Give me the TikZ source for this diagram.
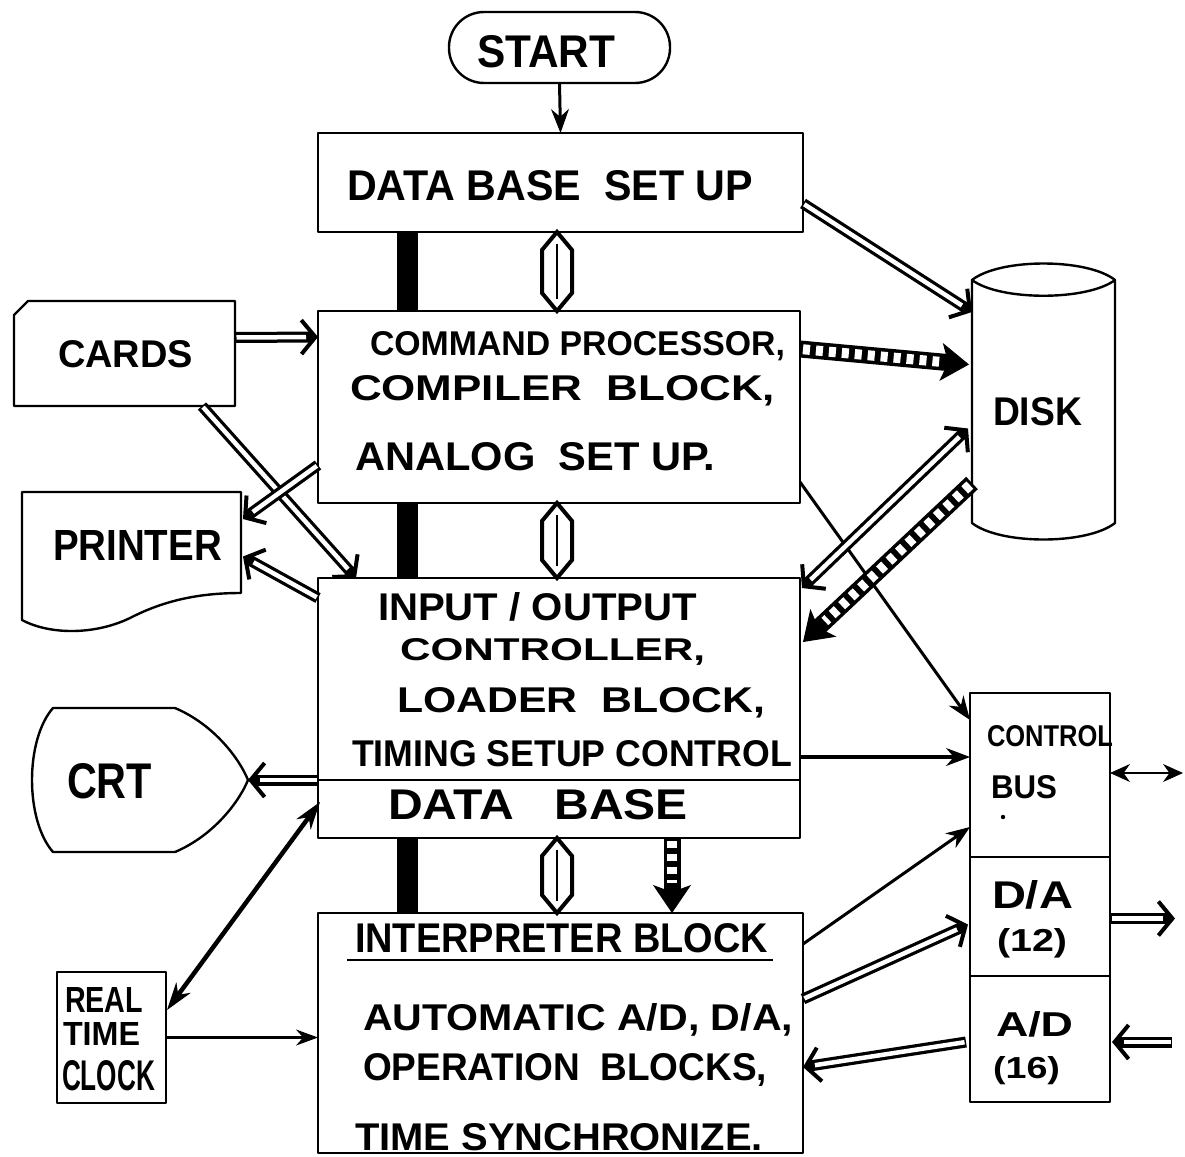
\documentclass[tikz,border=0pt]{standalone}
\usepackage{fontspec}
\setmainfont{Liberation Sans}
\usepackage{graphicx}
\usetikzlibrary{arrows.meta,calc}
\newcommand\lbl[6]{\node[anchor=base west,inner sep=0pt,outer sep=0pt] (#1) at (#2,#3) {\resizebox{#4pt}{#5pt}{\bfseries #6}};}
\newcommand\hexarr[2]{%
  \draw[hexline] (#1) -- ($(#1)+(15,18)$) -- ($(#2)+(15,-18)$) -- (#2) -- ($(#2)+(-15,-18)$) -- ($(#1)+(-15,18)$) -- cycle;
  \draw[line width=2.5pt] ($(#1)+(0,12)$) -- ($(#2)+(0,-12)$);}
\tikzset{
  boxline/.style={draw=black,line width=2.4pt,line join=round},
  box/.style={boxline,inner sep=0pt,outer sep=0pt},
  area/.style={inner sep=0pt,outer sep=0pt},
  hexline/.style={line width=4pt,line join=miter},
  sarrow/.style={line width=3pt,-{Stealth[length=24pt,width=18pt,line width=1pt]}},
  thinarrow/.style={line width=2.4pt,-{Stealth[length=22pt,width=16pt,line width=1pt]}},
  barb/.tip={Straight Barb[length=14pt,width=34pt,line width=4pt]},
  dblarrow/.style={line width=11pt,-barb,postaction={draw=white,line width=4.5pt,-,shorten >=12pt,shorten <=1.5pt}},
  dblboth/.style={line width=11pt,barb-barb,postaction={draw=white,line width=4.5pt,-,shorten >=12pt,shorten <=12pt}},
  hatched/.style={line width=17pt,-{Stealth[length=28pt,width=38pt,inset=7pt,line width=1pt]},
    postaction={draw=white,line width=10pt,dash pattern=on 7pt off 6pt,-,shorten >=30pt,shorten <=3pt}},
  busbar/.style={line width=21pt},
}
\begin{document}
\begin{tikzpicture}[x=1pt,y=-1pt]
\fill[white] (0,0) rectangle (1185,1156);
\useasboundingbox (0,0) rectangle (1185,1156);

% ---- boxes
\node[box,rounded corners=35pt,minimum width=221pt,minimum height=71pt] (start) at (559.5,47.5) {};
\node[box,minimum width=485pt,minimum height=99pt] (dbsu) at (560.5,182.5) {};
\node[box,minimum width=482pt,minimum height=192pt] (cp) at (559,407) {};
\node[box,minimum width=482pt,minimum height=202pt] (io) at (559,679) {};
\node[box,minimum width=482pt,minimum height=58pt] (db) at (559,809) {};
\node[box,minimum width=485pt,minimum height=240pt] (interp) at (560.5,1033) {};
\node[area,minimum width=221pt,minimum height=105pt] (cards) at (124.5,353.5) {};
\node[area,minimum width=219pt,minimum height=101pt] (printer) at (131.5,542.5) {};
\node[area,minimum width=218pt,minimum height=144pt] (crt) at (139,780) {};
\node[box,minimum width=109pt,minimum height=131pt] (rtc) at (111.5,1037.5) {};
\node[area,minimum width=143pt,minimum height=243pt] (disk) at (1043.5,401.5) {};
\node[box,minimum width=140pt,minimum height=164pt] (control) at (1040,775) {};
\node[box,minimum width=140pt,minimum height=119pt] (da) at (1040,916.5) {};
\node[box,minimum width=140pt,minimum height=126pt] (ad) at (1040,1039) {};

% ---- special outlines
\draw[boxline] ($(cards.north west)+(0,14)$) -- ($(cards.north west)+(14,0)$) -- (cards.north east) -- (cards.south east) -- (cards.south west) -- cycle;
\draw[boxline] (22,620) -- (printer.north west) -- (printer.north east) -- (printer.south east)
  .. controls (200,593) and (165,600) .. (130,618) .. controls (95,635) and (50,635) .. (22,620) -- cycle;
\draw[boxline] (175,708) -- (53,708) .. controls (25,740) and (25,820) .. (53,852) -- (175,852)
  .. controls (215,835) and (240,800) .. (crt.east) .. controls (240,760) and (215,725) .. (175,708) -- cycle;
\draw[boxline] (disk.north west) -- (disk.south west) .. controls (1000,545) and (1087,545) .. (disk.south east)
  -- (disk.north east) .. controls (1087,258) and (1000,258) .. (disk.north west)
  .. controls (1000,301) and (1087,301) .. (disk.north east);

% ---- texts
\lbl{tstart}{477}{67}{138}{32}{START}
\lbl{tdbsu}{347}{200}{406}{30}{DATA BASE\ \ SET UP}
\lbl{tcards}{58}{367}{135}{27}{CARDS}
\lbl{tprinter}{53}{560}{169}{30}{PRINTER}
\lbl{tcrt}{67}{798}{85}{35}{CRT}
\lbl{treal}{65}{1012}{78}{25}{REAL}
\lbl{ttime}{63}{1045}{77}{23}{TIME}
\lbl{tclock}{62}{1090}{93}{30}{CLOCK}
\lbl{tdisk}{993}{425}{89}{28}{DISK}
\lbl{tcontrol}{987}{746}{126}{21}{CONTROL}
\lbl{tbus}{991}{798}{66}{23}{BUS}
\lbl{tda}{992}{908}{81}{28}{D/A}
\lbl{ttwelve}{997}{951}{70}{23}{(12)}
\lbl{tad}{996}{1036}{77}{25}{A/D}
\lbl{tsixteen}{993}{1078}{67}{22}{(16)}
\lbl{tcpa}{370}{355}{415}{24}{COMMAND PROCESSOR,}
\lbl{tcpb}{350}{400}{425}{25}{COMPILER\ \ BLOCK,}
\lbl{tcpc}{355}{470}{360}{28}{ANALOG\ \ SET UP.}
\lbl{tioa}{378}{620}{319}{28}{INPUT / OUTPUT}
\lbl{tiob}{400}{660}{305}{22}{CONTROLLER,}
\lbl{tioc}{397}{712}{368}{25}{LOADER\ \ BLOCK,}
\lbl{tiod}{352}{766}{440}{26}{TIMING SETUP CONTROL}
\lbl{tdb}{388}{819}{300}{30}{DATA\ \ \ BASE}
\lbl{tina}{355}{952}{413}{29}{INTERPRETER BLOCK}
\lbl{tinb}{363}{1030}{430}{27}{AUTOMATIC A/D, D/A,}
\lbl{tinc}{363}{1080}{404}{27}{OPERATION\ \ BLOCKS,}
\lbl{tind}{355}{1150}{408}{27}{TIME SYNCHRONIZE.}
\draw[line width=2.4pt] (347,960) -- (773,960);
\fill (1003,817) circle (2.2pt);

% ---- helper coordinates
\coordinate (hexx) at (557,0);
\coordinate (barx) at (407,0);
\coordinate (hatx) at (672,0);
\coordinate (hAt) at (dbsu.south -| hexx); \coordinate (hAb) at (cp.north -| hexx);
\coordinate (hBt) at (cp.south -| hexx);   \coordinate (hBb) at (io.north -| hexx);
\coordinate (hCt) at (db.south -| hexx);   \coordinate (hCb) at (interp.north -| hexx);
\coordinate (ctlout) at (1183,773);
\coordinate (daout) at (1175,918.5);
\coordinate (adin) at (1172,1042);

% ---- buses
\draw[busbar] (dbsu.south -| barx) -- (cp.north -| barx);
\draw[busbar] (cp.south -| barx) -- (io.north -| barx);
\draw[busbar] (db.south -| barx) -- (interp.north -| barx);
\hexarr{hAt}{hAb}
\hexarr{hBt}{hBb}
\hexarr{hCt}{hCb}
\draw[hatched] (db.south -| hatx) -- (interp.north -| hatx);

% ---- connectors
\draw[sarrow] (start.south) -- (dbsu.north);
\draw[dblarrow] ($(dbsu.east)+(0,21)$) -- ($(disk.north west)+(0,32)$);
\draw[dblarrow] ($(cards.east)+(0,-16)$) -- ($(cp.west)+(0,-70)$);
\draw[hatched] ($(cp.east)+(0,-58)$) -- ($(disk.west)+(-3,-37)$);
\draw[dblarrow] ($(cards.south east)+(-33,0)$) -- ($(io.north west)+(38,0)$);
\draw[dblarrow] ($(cp.south west)+(0,-38)$) -- ($(printer.north east)+(2,27)$);
\draw[dblarrow] ($(io.north west)+(0,20)$) -- ($(printer.east)+(2,14)$);
\draw[sarrow] ($(cp.south east)+(0,-21)$) -- ($(control.north west)+(0,27)$);
\draw[dblboth] ($(disk.west)+(-4,27)$) -- ($(io.north east)+(2,10)$);
\draw[hatched] ($(disk.south west)+(0,-40)$) -- ($(io.north east)+(3,64)$);
\draw[sarrow,line width=4pt] ($(io.south east)+(0,-23)$) -- ($(control.west)+(0,-18)$);
\draw[dblarrow] (io.south west) -- (crt.east);
\draw[line width=4.5pt,{Stealth[length=28pt,width=18pt,line width=1pt]}-{Stealth[length=28pt,width=18pt,line width=1pt]}] ($(db.north west)+(2,22)$) -- ($(rtc.north east)+(1,38)$);
\draw[thinarrow] (rtc.east) -- (rtc.east -| interp.west);
\draw[sarrow] ($(interp.north east)+(0,31)$) -- ($(control.south west)+(0,-30)$);
\draw[dblarrow] ($(interp.north east)+(0,86)$) -- ($(da.west)+(-2,8)$);
\draw[dblarrow] ($(ad.west)+(-4,3)$) -- ($(interp.east)+(0,34)$);
\draw[line width=2.8pt,{Stealth[length=20pt,width=18pt,line width=1pt]}-{Stealth[length=20pt,width=18pt,line width=1pt]}] ($(control.east)+(0,-2)$) -- (ctlout);
\draw[dblarrow] ($(da.east)+(0,2)$) -- (daout);
\draw[dblarrow] (adin) -- ($(ad.east)+(2,3)$);
\end{tikzpicture}
\end{document}
